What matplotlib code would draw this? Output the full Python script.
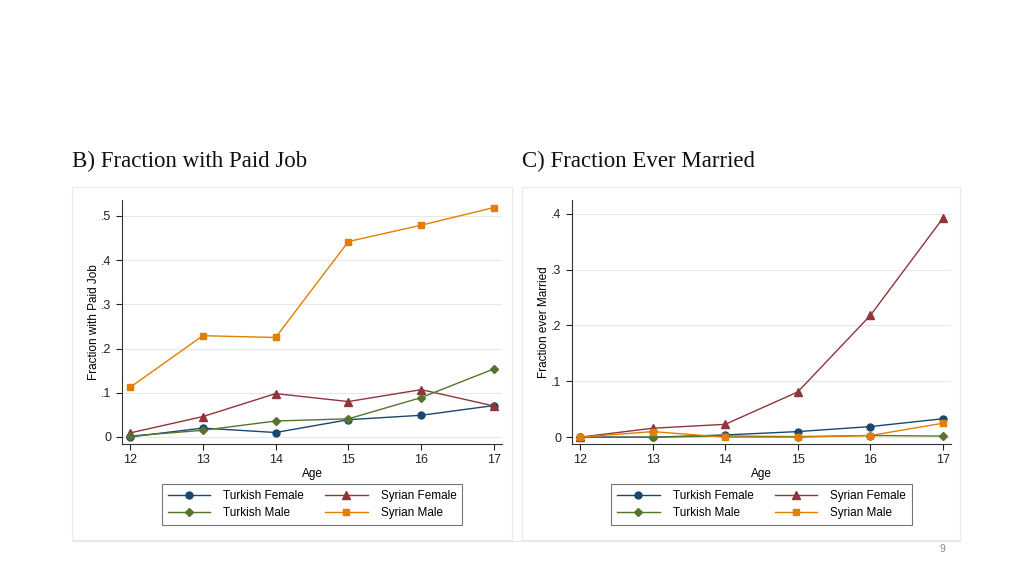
import matplotlib
matplotlib.use("Agg")
from matplotlib import pyplot as plt
from matplotlib.patches import Rectangle
from matplotlib.lines import Line2D

ages = [12, 13, 14, 15, 16, 17]

# B) fraction with paid job
job_turkish_female = [0.000, 0.020, 0.010, 0.039, 0.049, 0.071]
job_syrian_female = [0.009, 0.046, 0.098, 0.080, 0.107, 0.070]
job_turkish_male = [0.002, 0.015, 0.036, 0.041, 0.089, 0.154]
job_syrian_male = [0.112, 0.229, 0.225, 0.442, 0.479, 0.519]

# C) fraction ever married
mar_turkish_female = [0.000, 0.000, 0.004, 0.010, 0.019, 0.033]
mar_syrian_female = [0.000, 0.016, 0.023, 0.081, 0.218, 0.392]
mar_turkish_male = [0.000, 0.000, 0.002, 0.001, 0.003, 0.002]
mar_syrian_male = [0.000, 0.010, 0.000, 0.000, 0.003, 0.025]

series_names = ["Turkish Female", "Syrian Female", "Turkish Male", "Syrian Male"]
colors = ["#1a476f", "#90353b", "#55752f", "#e37e00"]
markers = ["o", "^", "D", "s"]
msizes = [5, 5.5, 4.5, 5]

W, H = 1024, 576
plt.rcParams['font.family'] = ['Liberation Sans', 'DejaVu Sans']
fig = plt.figure(figsize=(W / 100, H / 100), dpi=100)
fig.patch.set_facecolor("white")


def fx(px):
    return px / W


def fy(py):
    return 1 - py / H


def panel(x0, x1, title, ylabel, data, yticks, ytick_labels, ylim, axleft, axright):
    # light frame around the panel
    fig.add_artist(Rectangle((fx(x0), fy(540)), fx(x1 - x0), (540 - 187) / H,
                             transform=fig.transFigure, fill=False,
                             edgecolor="#ececec", linewidth=1.0))
    fig.text(fx(x0), fy(161), title, family="Liberation Serif", fontsize=16.5,
             va="center", ha="left", color="#111111")
    ax = fig.add_axes([fx(axleft), fy(444), fx(axright - axleft), (444 - 200) / H])
    for vals, c, m, ms, name in zip(data, colors, markers, msizes, series_names):
        ax.plot(ages, vals, color=c, marker=m, markersize=ms, linewidth=1.0,
                label=name)
    ax.set_xlim(11.89, 17.11)
    ax.set_ylim(*ylim)
    ax.set_xticks(ages)
    ax.set_yticks(yticks)
    ax.set_yticklabels(ytick_labels)
    ax.tick_params(labelsize=9, colors="#222222", length=4, width=0.8)
    ax.grid(axis="y", color="#e8e8e8", linewidth=0.8)
    ax.set_axisbelow(True)
    for s in ["top", "right"]:
        ax.spines[s].set_visible(False)
    for s in ["left", "bottom"]:
        ax.spines[s].set_color("#333333")
        ax.spines[s].set_linewidth(0.8)
    ax.set_xlabel("Age", fontsize=8.5, labelpad=1)
    ax.set_ylabel(ylabel, fontsize=8.5, labelpad=1)
    # legend filled row by row: TF, SF / TM, SM
    order = [0, 2, 1, 3]
    handles = [Line2D([0], [0], color=colors[i], marker=markers[i],
                      markersize=msizes[i], linewidth=1.0) for i in order]
    labels = [series_names[i] for i in order]
    leg = ax.legend(handles, labels, ncol=2, loc="upper center",
                    bbox_to_anchor=((axleft + axright) / 2 / W, fy(484)),
                    bbox_transform=fig.transFigure, fontsize=8.5, frameon=True,
                    fancybox=False, edgecolor="#555555", handlelength=3.6,
                    columnspacing=1.8, handletextpad=1.1, borderpad=0.5,
                    labelspacing=0.45, borderaxespad=0)
    leg.get_frame().set_linewidth(0.8)
    return ax


panel(72, 512, "B) Fraction with Paid Job", "Fraction with Paid Job",
      [job_turkish_female, job_syrian_female, job_turkish_male, job_syrian_male],
      [0, 0.1, 0.2, 0.3, 0.4, 0.5], ["0", ".1", ".2", ".3", ".4", ".5"],
      (-0.016, 0.536), 122, 502)
panel(522, 960, "C) Fraction Ever Married", "Fraction ever Married",
      [mar_turkish_female, mar_syrian_female, mar_turkish_male, mar_syrian_male],
      [0, 0.1, 0.2, 0.3, 0.4], ["0", ".1", ".2", ".3", ".4"],
      (-0.0122, 0.4244), 572, 951)

# footer line and page number
fig.add_artist(Line2D([fx(72), fx(960)], [fy(541), fy(541)], transform=fig.transFigure,
                      color="#e6e6e6", linewidth=0.8))
fig.text(fx(942), fy(549), "9", fontsize=7.5, color="#888888", ha="center", va="center")

fig.savefig("out.png", dpi=100)
